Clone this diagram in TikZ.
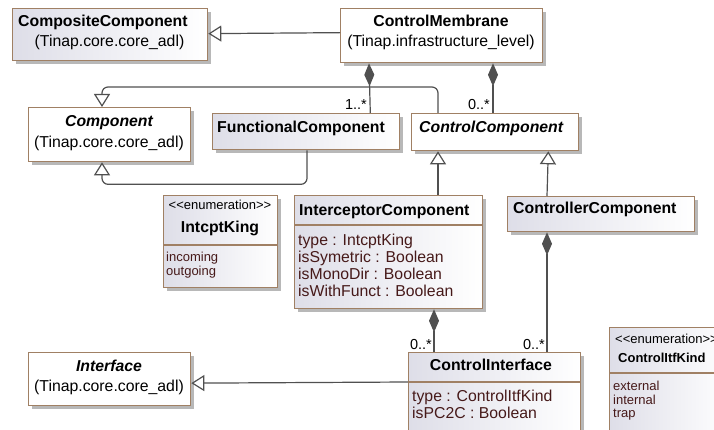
\documentclass[tikz,border=0pt]{standalone}
\usepackage{fontspec}
\setmainfont{Liberation Sans}
\usetikzlibrary{arrows.meta,shadows}

\definecolor{umlborder}{RGB}{160,128,100}
\definecolor{umlgray}{RGB}{222,222,232}
\definecolor{umlline}{RGB}{80,80,80}
\definecolor{umlattr}{RGB}{70,25,25}

\tikzset{
  box/.style={draw=umlborder, line width=1.3pt, inner sep=0pt, anchor=north west,
    drop shadow={shadow xshift=3.5pt, shadow yshift=-3.5pt, fill=black!28, opacity=1}},
  plainbox/.style={box, fill=white},
  shadedbox/.style={box, left color=umlgray, right color=white},
  divider/.style={draw=umlborder, line width=1.1pt},
  ttl/.style={font=\fontsize{15.8}{18}\selectfont\bfseries, inner sep=0pt},
  ittl/.style={font=\fontsize{15.8}{18}\selectfont\bfseries\itshape, inner sep=0pt},
  pkg/.style={font=\fontsize{15.8}{18}\selectfont, inner sep=0pt},
  attr/.style={font=\fontsize{15.8}{18}\selectfont, text=umlattr, inner sep=0pt, anchor=base west},
  small/.style={font=\fontsize{13}{15}\selectfont, inner sep=0pt},
  smallb/.style={font=\fontsize{13}{15}\selectfont\bfseries, inner sep=0pt},
  mult/.style={font=\fontsize{14.5}{16}\selectfont, inner sep=0pt, anchor=base east},
  gen/.style={draw=umlline, line width=1.2pt, -{Triangle[open, length=13pt, width=16pt, fill=white]}},
  comp/.style={draw=umlline, line width=1.2pt, {Diamond[length=23pt, width=10pt, fill=umlline]}-}
}

\begin{document}
\begin{tikzpicture}[x=1pt,y=-1pt]
\useasboundingbox (0,0) rectangle (714,430);
\clip (0,0) rectangle (714,430);

% classes
\node[shadedbox, minimum width=195pt, minimum height=52pt] (composite) at (12,8) {};
\node[plainbox, minimum width=202pt, minimum height=54pt] (membrane) at (340,8) {};
\node[plainbox, minimum width=162pt, minimum height=54pt] (component) at (28,107) {};
\node[shadedbox, minimum width=187pt, minimum height=36pt] (functional) at (212,113) {};
\node[plainbox, minimum width=167pt, minimum height=37pt] (controlc) at (411,113) {};
\node[shadedbox, minimum width=114pt, minimum height=92pt] (intcptking) at (163,195) {};
\node[shadedbox, minimum width=188pt, minimum height=113pt] (interceptor) at (294,195) {};
\node[shadedbox, minimum width=187pt, minimum height=35pt] (controller) at (507,196) {};
\node[shadedbox, minimum width=172pt, minimum height=90pt] (controlif) at (408,352) {};
\node[plainbox, minimum width=162pt, minimum height=53pt] (interface) at (28,352) {};
\node[shadedbox, minimum width=120pt, minimum height=110pt] (itfkind) at (609,327) {};

\draw[divider] ([yshift=-50pt]intcptking.north west) -- ([yshift=-50pt]intcptking.north east);
\draw[divider] ([yshift=-30pt]interceptor.north west) -- ([yshift=-30pt]interceptor.north east);
\draw[divider] ([yshift=-30pt]controlif.north west) -- ([yshift=-30pt]controlif.north east);
\draw[divider] ([yshift=-46pt]itfkind.north west) -- ([yshift=-46pt]itfkind.north east);

% texts
\node[ttl, anchor=base west] (compositeT) at (18,27) {CompositeComponent};
\node[pkg, anchor=base] (compositeP) at (109.5,47) {(Tinap.core.core\_adl)};
\node[ttl, anchor=base] (membraneT) at (441,27) {ControlMembrane};
\node[pkg, anchor=base] (membraneP) at (441,47) {(Tinap.infrastructure\_level)};
\node[ittl, anchor=base] (componentT) at (109,127) {Component};
\node[pkg, anchor=base] (componentP) at (109,148) {(Tinap.core.core\_adl)};
\node[ttl, anchor=base west] (functionalT) at (217,133) {FunctionalComponent};
\node[ittl, anchor=base west] (controlcT) at (419,133) {ControlComponent};

\node[small, anchor=base] (intcptkingS) at (220,210) {{<}{<}enumeration{>}{>}};
\node[ttl, anchor=base] (intcptkingT) at (220,233) {IntcptKing};
\node[small, text=umlattr, anchor=base west] (incoming) at (166,261) {incoming};
\node[small, text=umlattr, anchor=base west] (outgoing) at (166,275) {outgoing};

\node[ttl, anchor=base west] (interceptorT) at (299,216) {InterceptorComponent};
\node[attr] (icType) at (298,245) {type : IntcptKing};
\node[attr] (icSym) at (298,262) {isSymetric : Boolean};
\node[attr] (icMono) at (298,279) {isMonoDir : Boolean};
\node[attr] (icFunct) at (298,296) {isWithFunct : Boolean};

\node[ttl, anchor=base west] (controllerT) at (513,214) {ControllerComponent};

\node[ttl, anchor=base] (controlifT) at (491,370) {ControlInterface};
\node[attr] (ciType) at (412,401) {type : ControlItfKind};
\node[attr] (ciPC) at (412,418) {isPC2C : Boolean};

\node[ittl, anchor=base] (interfaceT) at (109,371) {Interface};
\node[pkg, anchor=base] (interfaceP) at (109,391) {(Tinap.core.core\_adl)};

\node[small, anchor=base west] (itfkindS) at (615,343) {{<}{<}enumeration{>}{>}};
\node[smallb, anchor=base west] (itfkindT) at (618,362) {ControlItfKind};
\node[small, text=umlattr, anchor=base west] (external) at (613,390) {external};
\node[small, text=umlattr, anchor=base west] (internal) at (613,404) {internal};
\node[small, text=umlattr, anchor=base west] (trap) at (613,417) {trap};

% connectors
\draw[gen] ([yshift=3pt]membrane.west) -- ([yshift=1pt]composite.east);
\draw[comp] ([xshift=29pt]membrane.south west) -- ([xshift=-30pt]functional.north east);
\draw[comp] ([xshift=153pt]membrane.south west) -- ([xshift=82pt]controlc.north west);
\draw[gen, rounded corners=6pt] ([xshift=27pt]controlc.north west) |- ([xshift=74pt,yshift=20pt]component.north west) -- ([xshift=74pt]component.north west);
\draw[gen, rounded corners=6pt] ([xshift=95pt]functional.south west) |- ([xshift=74pt,yshift=-22pt]component.south west) -- ([xshift=74pt]component.south west);
\draw[gen] ([xshift=144pt]interceptor.north west) -- ([xshift=27pt]controlc.south west);
\draw[gen] ([xshift=40pt]controller.north west) -- ([xshift=-31pt]controlc.south east);
\draw[comp] ([xshift=40pt]controller.south west) -- ([xshift=139pt]controlif.north west);
\draw[comp] ([xshift=140pt]interceptor.south west) -- ([xshift=26pt]controlif.north west);
\draw[gen] ([yshift=-30pt]controlif.north west) -- ([yshift=-4pt]interface.east);

\node[mult] (m1) at (367,110) {1..*};
\node[mult] (m2) at (490,110) {0..*};
\node[mult] (m3) at (432,349) {0..*};
\node[mult] (m4) at (545,349) {0..*};
\end{tikzpicture}
\end{document}
